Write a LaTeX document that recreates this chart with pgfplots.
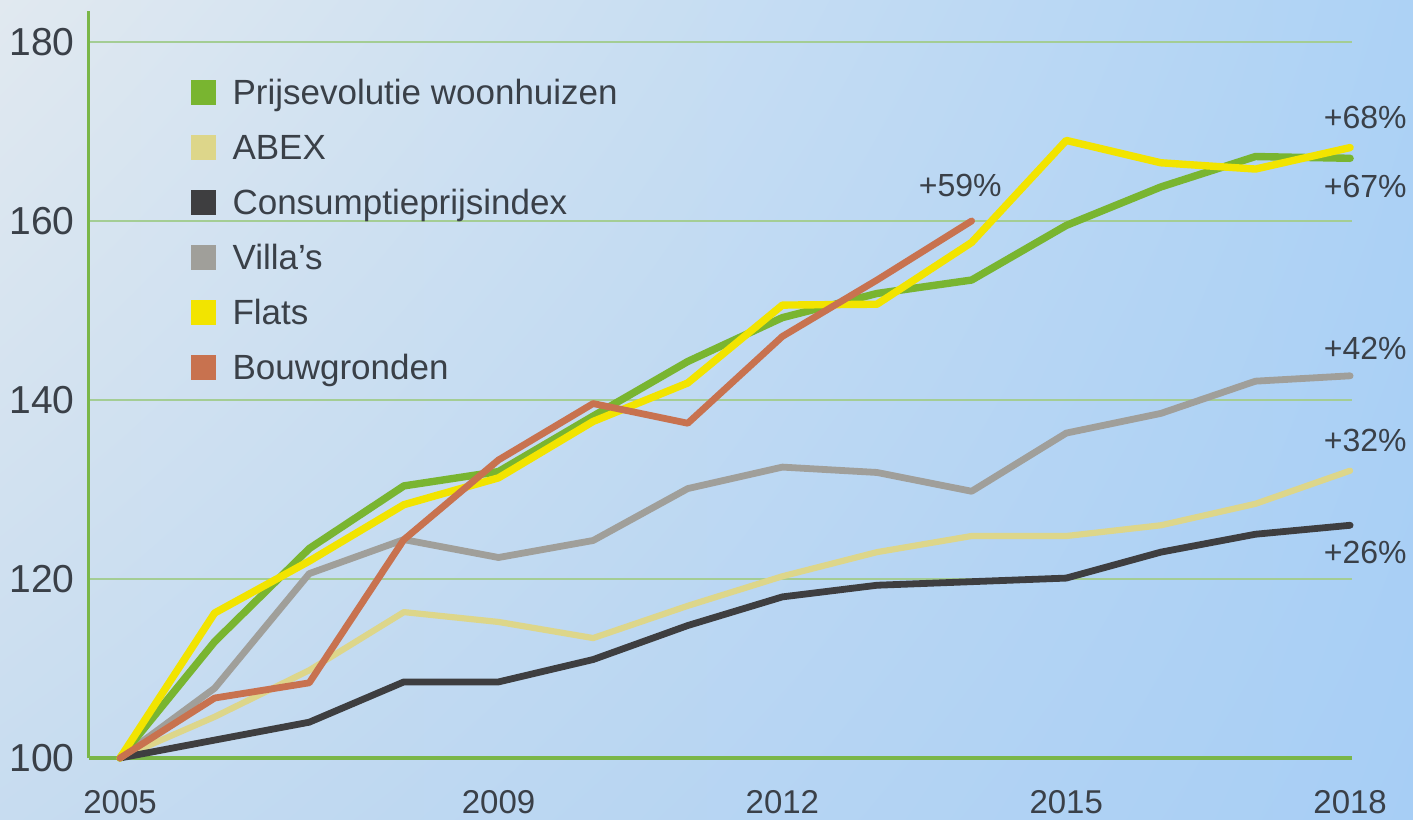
\documentclass[border=0pt]{standalone}
\usepackage{pgfplots}
\pgfplotsset{compat=1.18}
\usetikzlibrary{shadings}
\usepackage{fontspec}
\setmainfont{Liberation Sans}

\definecolor{cgreen}{HTML}{79B530}
\definecolor{cabex}{HTML}{DDD68A}
\definecolor{cblack}{HTML}{3E3E40}
\definecolor{cgrey}{HTML}{A09F9A}
\definecolor{cyellow}{HTML}{F2E400}
\definecolor{cbrown}{HTML}{C8724F}
\definecolor{txt}{HTML}{3A4048}
\definecolor{axgreen}{HTML}{7AB648}
\definecolor{gridgreen}{HTML}{A4CD94}
\definecolor{bgUL}{HTML}{E1E9F0}
\definecolor{bgLL}{HTML}{C7DCF0}
\definecolor{bgUR}{HTML}{ADD2F5}
\definecolor{bgLR}{HTML}{A7CEF5}

\begin{document}
\begin{tikzpicture}
  % fond: 1 px van het origineel = 0.5pt
  \path[use as bounding box] (-44.5pt,-30.5pt) rectangle (662pt,379pt);
  \shade[upper left=bgUL, upper right=bgUR, lower left=bgLL, lower right=bgLR]
    (-44.5pt,-30.5pt) rectangle (662pt,379pt);
  \begin{axis}[
      at={(0,0)}, anchor=south west,
      scale only axis, width=631.5pt, height=373.5pt,
      xmin=2004.672, xmax=2018.02, ymin=100, ymax=183.46,
      axis x line*=bottom, axis y line*=left,
      x axis line style={draw=axgreen, line width=1.7pt, -},
      y axis line style={draw=axgreen, line width=1.5pt, -},
      xtick={2005,2009,2012,2015,2018},
      ytick={100,120,...,180},
      xticklabel={\pgfmathprintnumber[1000 sep={}]{\tick}},
      major tick length=0pt, tick style={draw=none},
      ymajorgrids, grid style={draw=gridgreen, line width=1pt},
      /pgf/number format/assume math mode=true,
      yticklabel style={font=\fontsize{19.5}{22}\selectfont, text=txt, inner sep=0pt, xshift=-7pt},
      xticklabel style={font=\fontsize{16.5}{19}\selectfont, text=txt, inner sep=0pt, yshift=-16pt},
      clip=false,
      legend cell align=left,
      legend image code/.code={\path[#1, draw=none] (0pt,-4.85pt) rectangle (12.5pt,7.65pt);},
      legend style={at={(axis description cs:0.0804,0.9086)}, anchor=north west,
        draw=none, fill=none, inner sep=0pt, outer sep=0pt,
        row sep=11.5pt, column sep=8.5pt, text=txt,
        font=\fontsize{17.5}{20}\selectfont,
        nodes={inner sep=0pt, text height=12.5pt, text depth=3.5pt}},
      every axis plot/.append style={line width=3.4pt, line join=round, line cap=round},
    ]
    \addlegendimage{fill=cgreen}   \addlegendentry{Prijsevolutie woonhuizen}
    \addlegendimage{fill=cabex}    \addlegendentry{ABEX}
    \addlegendimage{fill=cblack}   \addlegendentry{Consumptieprijsindex}
    \addlegendimage{fill=cgrey}    \addlegendentry{Villa’s}
    \addlegendimage{fill=cyellow}  \addlegendentry{Flats}
    \addlegendimage{fill=cbrown}   \addlegendentry{Bouwgronden}

    % ABEX
    \addplot[cabex, line width=3.1pt, forget plot] coordinates {
      (2005,100) (2006,104.6) (2007,109.8) (2008,116.3) (2009,115.2) (2010,113.4)
      (2011,117.0) (2012,120.3) (2013,123.0) (2014,124.8) (2015,124.8) (2016,126.0)
      (2017,128.4) (2018,132.1)};
    % Consumptieprijsindex
    \addplot[cblack, forget plot] coordinates {
      (2005,100) (2006,102.0) (2007,104.0) (2008,108.5) (2009,108.5) (2010,111.0)
      (2011,114.8) (2012,118.0) (2013,119.3) (2014,119.7) (2015,120.1) (2016,123.0)
      (2017,125.0) (2018,126.0)};
    % Villa's
    \addplot[cgrey, forget plot] coordinates {
      (2005,100) (2006,107.8) (2007,120.6) (2008,124.4) (2009,122.4) (2010,124.3)
      (2011,130.1) (2012,132.5) (2013,131.9) (2014,129.8) (2015,136.3) (2016,138.5)
      (2017,142.1) (2018,142.7)};
    % Prijsevolutie woonhuizen
    \addplot[cgreen, line width=3.7pt, forget plot] coordinates {
      (2005,100) (2006,113.0) (2007,123.4) (2008,130.4) (2009,132.0) (2010,138.2)
      (2011,144.3) (2012,149.2) (2013,151.9) (2014,153.4) (2015,159.5) (2016,163.8)
      (2017,167.2) (2018,167.0)};
    % Flats
    \addplot[cyellow, line width=3.7pt, forget plot] coordinates {
      (2005,100) (2006,116.2) (2007,122.0) (2008,128.3) (2009,131.3) (2010,137.6)
      (2011,141.9) (2012,150.6) (2013,150.7) (2014,157.6) (2015,169.0) (2016,166.5)
      (2017,165.8) (2018,168.2)};
    % Bouwgronden
    \addplot[cbrown, forget plot] coordinates {
      (2005,100) (2006,106.7) (2007,108.4) (2008,124.4) (2009,133.3) (2010,139.6)
      (2011,137.4) (2012,147.1) (2013,153.4) (2014,160.0)};

    \begin{scope}[every node/.style={font=\fontsize{16}{19}\selectfont, text=txt, inner sep=0pt}]
      \node at (axis cs:2018.16,171.6) {+68\%};
      \node at (axis cs:2018.16,163.9) {+67\%};
      \node at (axis cs:2018.16,145.8) {+42\%};
      \node at (axis cs:2018.16,135.5) {+32\%};
      \node at (axis cs:2018.16,123.0) {+26\%};
      \node at (axis cs:2013.88,164.0) {+59\%};
    \end{scope}
  \end{axis}
\end{tikzpicture}
\end{document}
